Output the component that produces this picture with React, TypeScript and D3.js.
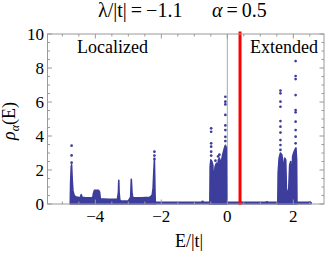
import React from "react";
import * as d3 from "d3";

// ---- data ----
const bandAE = [-4.76, -4.75, -4.73, -4.72, -4.7, -4.68, -4.65, -4.6, -4.5, -4.45, -4.43, -4.4, -4.3, -4.08, -4.06, -4.03, -3.9, -3.87, -3.85, -3.6, -3.33, -3.3, -3.29, -3.28, -3.26, -3.23, -3.0, -2.93, -2.91, -2.89, -2.87, -2.84, -2.6, -2.35, -2.28, -2.25, -2.23, -2.21, -2.19, -2.18];
const bandARho = [0, 1.2, 2.2, 2.3, 1.4, 0.8, 0.55, 0.42, 0.38, 0.4, 0.55, 0.4, 0.36, 0.36, 0.6, 0.8, 0.8, 0.7, 0.3, 0.28, 0.28, 0.7, 1.4, 0.7, 0.25, 0.18, 0.18, 0.4, 1.45, 0.7, 0.4, 0.38, 0.36, 0.4, 0.5, 0.9, 1.8, 2.6, 0.5, 0];

const bandBE = [-0.53, -0.52, -0.5, -0.47, -0.44, -0.42, -0.41, -0.4, -0.37, -0.33, -0.3, -0.27, -0.24, -0.21, -0.19, -0.18, -0.17, -0.14, -0.1, -0.06, -0.03, -0.02];
const bandBRho = [0, 2.2, 2.6, 2.5, 2.3, 1.2, 0.3, 1.6, 2.2, 2.4, 2.0, 2.6, 2.7, 2.5, 0.5, 1.5, 2.6, 2.9, 3.2, 3.45, 3.3, 0];

const bandCE = [1.53, 1.54, 1.57, 1.61, 1.65, 1.69, 1.71, 1.74, 1.77, 1.79, 1.82, 1.86, 1.89, 1.92, 1.95, 1.98, 2.01, 2.05, 2.08, 2.1, 2.11];
const bandCRho = [0, 1.8, 2.7, 3.0, 2.9, 2.4, 1.0, 2.7, 2.6, 0.9, 0.7, 0.8, 2.3, 2.5, 1.0, 2.8, 3.0, 3.2, 3.3, 2.6, 0];

const dotE = [
  -4.72, -4.72, -4.72,
  -2.21, -2.21, -2.21,
  -0.49, -0.49, -0.49, -0.49, -0.49, -0.49,
  -0.36, -0.28, -0.24,
  -0.06, -0.06, -0.06, -0.06, -0.06, -0.06, -0.06, -0.06,
  1.61, 1.61, 1.61, 1.61, 1.61, 1.61, 1.61, 1.61, 1.61, 1.61,
  2.07, 2.07, 2.07, 2.07, 2.07, 2.07, 2.07, 2.07, 2.07, 2.07,
  -0.75, 1.2, 2.5,
];
const dotRho = [
  3.43, 2.86, 2.43,
  3.08, 2.85, 2.65,
  4.45, 4.25, 3.57, 3.37, 3.08, 2.85,
  2.55, 2.8, 2.9,
  6.31, 6.02, 5.86, 5.24, 4.62, 4.35, 3.95, 3.7,
  6.67, 6.51, 6.02, 5.72, 4.88, 4.55, 4.2, 3.76, 3.47, 3.18,
  8.41, 7.53, 7.35, 6.41, 5.53, 5.39, 4.84, 4.35, 3.96, 3.57,
  0.12, 0.1, 0.08,
];

const baselineE = [-2.22, 2.52];
const baselineRho = [0.06, 0.06];

const mobilityEdge = 0.385;
const xMajor = [-4, -2, 0, 2];
const xMinor = [-5, -4.5, -3.5, -3, -2.5, -1.5, -1, -0.5, 0.5, 1, 1.5, 2.5];
const yMajor = [0, 2, 4, 6, 8, 10];
const yMinor = [0.5, 1, 1.5, 2.5, 3, 3.5, 4.5, 5, 5.5, 6.5, 7, 7.5, 8.5, 9, 9.5];

const BLUE = "#3d3d9c";
const FRAME = "#9a9a9a";
const FONT = "'Liberation Serif', 'Times New Roman', Times, Tinos, 'DejaVu Serif', 'Noto Serif', serif";
const TXT = { fontFamily: FONT } as React.CSSProperties;

export default function App() {
  const W = 327, H = 254;
  const L = 47.5, R = 324, T = 34, B = 204;
  const x = d3.scaleLinear().domain([-5.45, 2.93]).range([L, R]);
  const y = d3.scaleLinear().domain([0, 10]).range([B, T]);

  const area = d3
    .area<[number, number]>()
    .x((d) => x(d[0]))
    .y0(y(0))
    .y1((d) => y(d[1]));
  const line = d3
    .line<[number, number]>()
    .x((d) => x(d[0]))
    .y((d) => y(d[1]));

  const bands: [number, number][][] = [
    bandAE.map((e, i) => [e, bandARho[i]] as [number, number]),
    bandBE.map((e, i) => [e, bandBRho[i]] as [number, number]),
    bandCE.map((e, i) => [e, bandCRho[i]] as [number, number]),
  ];
  const base = baselineE.map((e, i) => [e, baselineRho[i]] as [number, number]);

  const fmt = (v: number) => (v < 0 ? "\u2212" + Math.abs(v) : String(v));

  return (
    <svg
      width={W}
      height={H}
      style={{ position: "absolute", left: 0, top: 0, display: "block", background: "#fff", fontFamily: FONT }}
    >
      {/* zero line */}
      <line x1={x(0)} x2={x(0)} y1={T} y2={B} stroke="#a8a8a8" strokeWidth={1} />
      {/* bands */}
      {bands.map((b, i) => (
        <path key={i} d={area(b) || ""} fill={BLUE} stroke={BLUE} strokeWidth={1.6} strokeLinejoin="round" />
      ))}
      <path d={line(base) || ""} stroke={BLUE} strokeWidth={3} fill="none" strokeLinecap="round" />
      {dotE.map((e, i) => (
        <circle key={i} cx={x(e)} cy={y(dotRho[i])} r={1.35} fill={BLUE} />
      ))}
      {/* mobility edge */}
      <line x1={x(mobilityEdge)} x2={x(mobilityEdge)} y1={T - 2.5} y2={B + 1} stroke="#ff0000" strokeWidth={3} />
      {/* frame */}
      <rect x={L} y={T} width={R - L} height={B - T} fill="none" stroke={FRAME} strokeWidth={1} />
      {/* ticks */}
      {xMajor.map((v) => (
        <g key={"xM" + v}>
          <line x1={x(v)} x2={x(v)} y1={B} y2={B - 4.5} stroke={FRAME} />
          <line x1={x(v)} x2={x(v)} y1={T} y2={T + 4.5} stroke={FRAME} />
          <text x={x(v)} y={222} textAnchor="middle" fontSize={17} fill="#000" style={TXT}>
            {fmt(v)}
          </text>
        </g>
      ))}
      {xMinor.map((v) => (
        <g key={"xm" + v}>
          <line x1={x(v)} x2={x(v)} y1={B} y2={B - 2.5} stroke={FRAME} />
          <line x1={x(v)} x2={x(v)} y1={T} y2={T + 2.5} stroke={FRAME} />
        </g>
      ))}
      {yMajor.map((v) => (
        <g key={"yM" + v}>
          <line x1={L} x2={L + 4.5} y1={y(v)} y2={y(v)} stroke={FRAME} />
          <line x1={R} x2={R - 4.5} y1={y(v)} y2={y(v)} stroke={FRAME} />
          <text x={44} y={y(v) + 5.5} textAnchor="end" fontSize={17} fill="#000" style={TXT}>
            {fmt(v)}
          </text>
        </g>
      ))}
      {yMinor.map((v) => (
        <g key={"ym" + v}>
          <line x1={L} x2={L + 2.5} y1={y(v)} y2={y(v)} stroke={FRAME} />
          <line x1={R} x2={R - 2.5} y1={y(v)} y2={y(v)} stroke={FRAME} />
        </g>
      ))}
      {/* annotations */}
      <text x={77} y={53} fontSize={18} fill="#000" style={TXT}>Localized</text>
      <text x={250} y={53} fontSize={18} fill="#000" style={TXT}>Extended</text>
      {/* title */}
      <text x={98} y={17} fontSize={20} fill="#000" style={TXT}>
        {"\u03bb/|t|\u2009=\u2009\u22121.1"}
      </text>
      <text x={212} y={17} fontSize={20} fill="#000" style={TXT}>
        <tspan fontStyle="italic">{"\u03b1"}</tspan>
        {"\u2009=\u20090.5"}
      </text>
      {/* axis labels */}
      <text x={189} y={247} textAnchor="middle" fontSize={18} fill="#000" style={TXT}>
        E/|t|
      </text>
      <text transform="translate(15,121) rotate(-90)" textAnchor="middle" fontSize={18} fill="#000" style={TXT}>
        <tspan fontStyle="italic">{"\u03c1"}</tspan>
        <tspan fontStyle="italic" fontSize={12} dy={4}>{"\u03b1"}</tspan>
        <tspan dy={-4}>(E)</tspan>
      </text>
    </svg>
  );
}
